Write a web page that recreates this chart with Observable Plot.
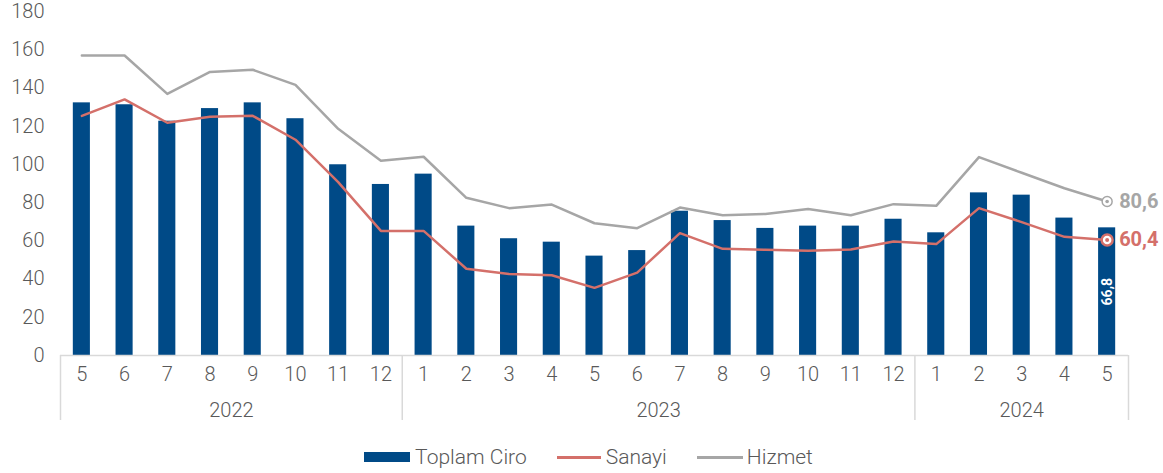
<!DOCTYPE html>
<html>
<head>
<meta charset="utf-8">
<script src="https://cdn.jsdelivr.net/npm/d3@7"></script>
<script src="https://cdn.jsdelivr.net/npm/@observablehq/plot@0.6"></script>
<style>
  body { margin: 0; background: #fff; font-family: Roboto, "Liberation Sans", sans-serif; }
  #legend { display: flex; justify-content: center; align-items: center; height: 40px; margin-top: 4px; font-size: 21px; font-weight: 300; color: #595959; margin-left: 14px; }
  .item { display: flex; align-items: center; margin: 0 15px; }
  .sw { display: inline-block; width: 46px; margin-right: 5px; }
</style>
</head>
<body>
<div id="chart"></div>
<div id="legend">
  <span class="item"><span class="sw" style="height:10px;background:#004a87"></span>Toplam Ciro</span>
  <span class="item"><span class="sw" style="height:3px;background:#d4706a;width:44px"></span>Sanayi</span>
  <span class="item"><span class="sw" style="height:3px;background:#a6a6a6;width:46px;margin-right:4px"></span>Hizmet</span>
</div>
<script>
const months = [5,6,7,8,9,10,11,12, 1,2,3,4,5,6,7,8,9,10,11,12, 1,2,3,4,5];
const years  = [2022,2022,2022,2022,2022,2022,2022,2022,
                2023,2023,2023,2023,2023,2023,2023,2023,2023,2023,2023,2023,
                2024,2024,2024,2024,2024];
const toplamCiro = [132.2,131.2,122.6,129.2,132.2,123.9,99.8,89.5,
                    94.9,67.7,61.1,59.3,52.0,54.9,75.5,70.6,66.5,67.7,67.7,71.3,
                    64.2,85.1,83.9,71.9,66.8];
const sanayi = [125.4,134.0,121.8,124.9,125.4,112.9,90.7,65.2,
                65.2,45.4,42.7,42.0,35.4,43.4,64.0,55.8,55.3,54.8,55.5,59.7,
                58.3,77.1,69.8,62.1,60.4];
const hizmet = [157.0,157.0,136.9,148.4,149.5,141.6,118.6,101.9,
                104.0,82.5,77.1,79.0,69.2,66.6,77.4,73.4,74.1,76.6,73.4,79.2,
                78.3,103.8,95.6,87.5,80.6];
const yTicks = [0,20,40,60,80,100,120,140,160,180];
const yearLabels = ["2022","2023","2024"];

const data = months.map((m, i) => ({i, month: m, year: years[i], toplam: toplamCiro[i], sanayi: sanayi[i], hizmet: hizmet[i]}));
const groups = yearLabels.map(y => {
  const idx = data.filter(d => String(d.year) === y).map(d => d.i);
  return {year: y, first: d3.min(idx), last: d3.max(idx)};
});
const bounds = [groups[0].first - 0.5, ...groups.map(g => g.last + 0.5)];
const last = data[data.length - 1];

const BLUE = "#004a87", RED = "#d4706a", GRAY = "#a6a6a6", TXT = "#595959";

const chart = Plot.plot({
  width: 1163,
  height: 433,
  marginLeft: 60,
  marginRight: 35,
  marginTop: 11,
  marginBottom: 78,
  style: {fontFamily: "Roboto, 'Liberation Sans', sans-serif", fontSize: "20px", fontWeight: 300, color: TXT, background: "transparent", overflow: "visible"},
  x: {type: "linear", domain: [-0.5, data.length - 0.5]},
  y: {domain: [0, 180]},
  marks: [
    Plot.rectY(data, {x1: d => d.i - 0.2, x2: d => d.i + 0.2, y1: 0, y2: "toplam", fill: BLUE}),
    Plot.ruleY([0], {stroke: "#d9d9d9", strokeWidth: 1.5}),
    Plot.ruleX(bounds, {y1: 0, y2: -34, stroke: "#d9d9d9", strokeWidth: 1.5}),
    Plot.line(data, {x: "i", y: "hizmet", stroke: GRAY, strokeWidth: 2.5}),
    Plot.line(data, {x: "i", y: "sanayi", stroke: RED, strokeWidth: 2.5}),
    Plot.axisY({ticks: yTicks, tickSize: 0, tickPadding: 16, fill: TXT, fontSize: 20, label: null}),
    Plot.axisX({ticks: data.map(d => d.i), tickFormat: i => String(months[i]), tickSize: 0, tickPadding: 11, fill: TXT, fontSize: 20, label: null}),
    Plot.text(groups, {x: g => (g.first + g.last) / 2, y: -29, text: "year", fill: TXT, fontSize: 20}),
    Plot.dot([last], {x: "i", y: "hizmet", r: 5, fill: "white", stroke: GRAY, strokeWidth: 1.5}),
    Plot.dot([last], {x: "i", y: "hizmet", r: 1.8, fill: GRAY}),
    Plot.dot([last], {x: "i", y: "sanayi", r: 5.5, fill: "white", stroke: RED, strokeWidth: 2.5}),
    Plot.dot([last], {x: "i", y: "sanayi", r: 2, fill: RED}),
    Plot.text([last], {x: "i", y: "hizmet", text: d => d3.format(".1f")(d.hizmet).replace(".", ","), dx: 12, textAnchor: "start", fill: GRAY, fontSize: 20, fontWeight: "bold"}),
    Plot.text([last], {x: "i", y: "sanayi", text: d => d3.format(".1f")(d.sanayi).replace(".", ","), dx: 12, textAnchor: "start", fill: RED, fontSize: 20, fontWeight: "bold"}),
    Plot.text([last], {x: "i", y: d => d.toplam / 2, text: d => d3.format(".1f")(d.toplam).replace(".", ","), rotate: -90, fill: "white", fontSize: 14, fontWeight: "bold"})
  ]
});
document.getElementById("chart").appendChild(chart);
</script>
</body>
</html>
